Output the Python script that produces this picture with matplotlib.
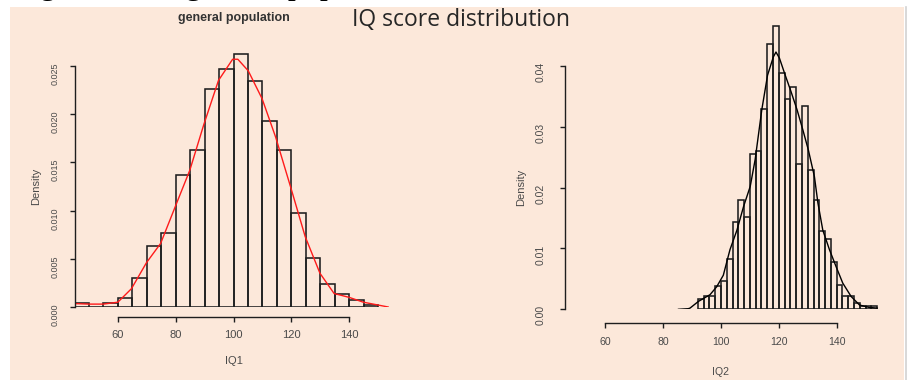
import matplotlib
matplotlib.use('Agg')
import matplotlib.pyplot as plt
import matplotlib.transforms as mtransforms
from matplotlib.patches import Rectangle
from matplotlib.lines import Line2D

W, H = 912, 380
DPI = 100

PANEL = '#fce8da'
INK = '#1e1e1e'
TICK_TXT = '#4a4a4a'

# IQ1 (general population): histogram bins of width 5 and density heights
iq1_left = [45, 50, 55, 60, 65, 70, 75, 80, 85, 90, 95,
            100, 105, 110, 115, 120, 125, 130, 135, 140, 145]
iq1_density = [0.00045, 0.0, 0.00045, 0.00097, 0.00305, 0.00637, 0.00768,
               0.01369, 0.01629, 0.02258, 0.02466, 0.02629, 0.02341, 0.01929,
               0.01625, 0.00972, 0.00508, 0.00239, 0.00132, 0.00077, 0.00025]
# kernel density estimate drawn over IQ1
iq1_kde_x = [45.5, 50, 55, 60, 64.7, 69.9, 74.8, 80.1, 84.9, 89.7, 94.8,
             99.7, 101.5, 105.1, 109.9, 114.6, 119.9, 124.8, 129.9, 134.8,
             140, 144.9, 153.5]
iq1_kde_y = [0.00035, 0.0003, 0.0003, 0.0005, 0.0019, 0.0046, 0.0066,
             0.0106, 0.0142, 0.0189, 0.0235, 0.0257, 0.0257, 0.0245, 0.0216,
             0.0176, 0.0123, 0.0073, 0.0035, 0.0014, 0.0010, 0.0005, 0.0]

# IQ2: histogram bins of width 2
iq2_left = [92, 94, 96, 98, 100, 102, 104, 106, 108, 110, 112, 114, 116,
            118, 120, 122, 124, 126, 128, 130, 132, 134, 136, 138, 140, 142,
            144, 146, 148, 150, 152]
iq2_density = [0.0017, 0.0022, 0.0022, 0.0038, 0.0047, 0.0082, 0.0144,
               0.0179, 0.0152, 0.0255, 0.0260, 0.0330, 0.0436, 0.0466,
               0.0389, 0.0345, 0.0366, 0.0239, 0.0335, 0.0229, 0.0180,
               0.0129, 0.0116, 0.0078, 0.0040, 0.0022, 0.0022, 0.0011,
               0.0005, 0.0005, 0.0005]
iq2_kde_x = [85.3, 88.7, 89.3, 92.2, 96.2, 98.5, 100.8, 103.1, 105.5, 107.8,
             110.1, 111.8, 114.1, 116.1, 118.1, 119.0, 120.2, 122.2, 124.2,
             126.3, 128.3, 130.2, 132.3, 133.5, 135.2, 137.5, 139.8, 142.1,
             145.0, 147.9, 151.3, 154.0]
iq2_kde_y = [0.0, 0.0001, 0.0002, 0.0013, 0.0024, 0.0037, 0.0056, 0.0098,
             0.0130, 0.0169, 0.0202, 0.0246, 0.0328, 0.0385, 0.0415, 0.0423,
             0.0413, 0.0385, 0.0358, 0.0328, 0.0295, 0.0262, 0.0218, 0.0175,
             0.0130, 0.0098, 0.0070, 0.0043, 0.0021, 0.0007, 0.0003, 0.0002]

x_ticks = [60, 80, 100, 120, 140]
iq1_yticks = [0.0, 0.005, 0.010, 0.015, 0.020, 0.025]
iq2_yticks = [0.0, 0.01, 0.02, 0.03, 0.04]


def px_rect(x0, y0, x1, y1):
    """Axes rectangle from pixel corners (origin top-left)."""
    return [x0 / W, 1 - y1 / H, (x1 - x0) / W, (y1 - y0) / H]


def r_axes(ax, yticks, yfmt, ysize, ypad, xsize, xpad, offset):
    """Base-graphics look: open axes, spines limited to the tick range."""
    ax.set_facecolor('none')
    ax.set_zorder(2)
    for side in ('top', 'right'):
        ax.spines[side].set_visible(False)
    for side in ('left', 'bottom'):
        ax.spines[side].set_color(INK)
        ax.spines[side].set_linewidth(1.0)
    ax.spines['left'].set_bounds(yticks[0], yticks[-1])
    ax.spines['bottom'].set_bounds(x_ticks[0], x_ticks[-1])
    ax.spines['bottom'].set_position(('outward', offset))
    ax.set_xticks(x_ticks)
    ax.set_xticklabels([str(t) for t in x_ticks])
    ax.set_yticks(yticks)
    ax.set_yticklabels([yfmt % t for t in yticks])
    ax.tick_params(direction='out', length=3.6, width=1.0, color=INK,
                   labelcolor=TICK_TXT)
    ax.tick_params(axis='y', labelrotation=90, labelsize=ysize, pad=ypad)
    ax.tick_params(axis='x', labelsize=xsize, pad=xpad)
    for lab in ax.get_xticklabels() + ax.get_yticklabels():
        lab.set_family('Liberation Sans')


fig = plt.figure(figsize=(W / DPI, H / DPI), dpi=DPI)
fig.patch.set_facecolor('white')

# slide heading behind the panel; only its descenders show above it
fig.text(-88 / W, 1 + 5.5 / H, "Comparing IQ in the general population",
         family='Liberation Serif', fontsize=23, color='black',
         ha='left', va='baseline', zorder=0)

fig.add_artist(Rectangle((10 / W, 0), 894 / W, 373 / H,
                         transform=fig.transFigure, facecolor=PANEL,
                         edgecolor='none', zorder=1))
fig.add_artist(Line2D([906 / W, 906 / W], [0, 373 / H],
                      transform=fig.transFigure, color='#d2d2d2',
                      lw=1.2, zorder=1))

fig.text(352 / W, 1 - 26 / H, "IQ score distribution", family='Open Sans',
         fontsize=16.5, color='#262626', ha='left', va='baseline', zorder=3)

# ---- left panel: general population ----
ax1 = fig.add_axes(px_rect(74.5, 20, 420, 307))
ax1.bar(iq1_left, iq1_density, width=5, align='edge', fill=False,
        edgecolor=INK, linewidth=1.15)
ax1.plot(iq1_kde_x, iq1_kde_y, color='#ff1a1a', lw=1.0)
ax1.set_xlim(45, 45 + (420 - 74.5) / 2.891)
ax1.set_ylim(0, 287 / 9640)
r_axes(ax1, iq1_yticks, '%.3f', 6.5, 7, 8, 6, 7)

blend1 = mtransforms.blended_transform_factory(ax1.transData, fig.transFigure)
ax1.text(100, 1 - 18 / H, "general population", transform=blend1,
         ha='center', va='center', fontsize=9, fontweight='bold',
         family='Liberation Sans', color='#333333')
xl = ax1.set_xlabel("IQ1", fontsize=8, color=TICK_TXT, family='Liberation Sans')
xl.set_va('center')
ax1.xaxis.set_label_coords(100, 1 - 360.7 / H, transform=blend1)
yl = ax1.set_ylabel("Density", fontsize=8, color=TICK_TXT,
                    family='Liberation Sans')
yl.set_va('center')
ax1.yaxis.set_label_coords(
    36 / W, 0.0125,
    transform=mtransforms.blended_transform_factory(fig.transFigure, ax1.transData))

# ---- right panel: IQ2 ----
ax2 = fig.add_axes(px_rect(565, 20, 903, 309.3))
ax2.bar(iq2_left, iq2_density, width=2, align='edge', fill=False,
        edgecolor=INK, linewidth=1.15)
ax2.plot(iq2_kde_x, iq2_kde_y, color='black', lw=1.0)
ax2.set_xlim(60 - (605.3 - 565) / 2.8925, 60 + (903 - 605.3) / 2.8925)
ax2.set_ylim(0, 289.3 / 6082)
r_axes(ax2, iq2_yticks, '%.2f', 7.5, 10, 7.6, 6.5, 9.6)

blend2 = mtransforms.blended_transform_factory(ax2.transData, fig.transFigure)
xl2 = ax2.set_xlabel("IQ2", fontsize=7.6, color=TICK_TXT, family='Liberation Sans')
xl2.set_va('center')
ax2.xaxis.set_label_coords(100, 1 - 371.7 / H, transform=blend2)
yl2 = ax2.set_ylabel("Density", fontsize=8, color=TICK_TXT,
                     family='Liberation Sans')
yl2.set_va('center')
ax2.yaxis.set_label_coords(
    521 / W, 0.02,
    transform=mtransforms.blended_transform_factory(fig.transFigure, ax2.transData))

fig.savefig('out.png', dpi=DPI, facecolor=fig.get_facecolor())
